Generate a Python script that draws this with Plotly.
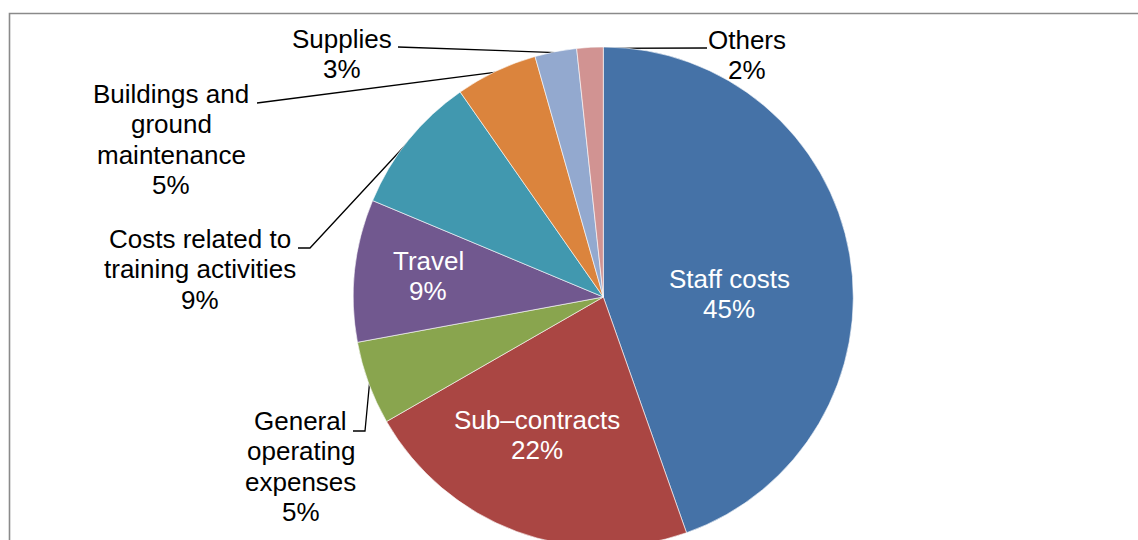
import plotly.graph_objects as go

# ---------------- data ----------------
categories = ["Staff costs", "Sub\u2013contracts", "General operating expenses", "Travel",
              "Costs related to training activities", "Buildings and ground maintenance",
              "Supplies", "Others"]
values = [44.6, 22.1, 5.4, 9.2, 9.0, 5.3, 2.7, 1.7]
colors = ["#4572A7", "#AA4643", "#89A54E", "#71588F", "#4198AF", "#DB843D", "#93A9CF", "#D19392"]

# label text lines (category name broken as in the chart)
label_lines = [
    ["Staff costs"],
    ["Sub\u2013contracts"],
    ["General", "operating", "expenses"],
    ["Travel"],
    ["Costs related to", "training activities"],
    ["Buildings and", "ground", "maintenance"],
    ["Supplies"],
    ["Others"],
]

# ---------------- layout / style ----------------
W, H = 1138, 560
CX, CY, R = 603.3, 297.0, 250.0
FONT = "Arial, 'Liberation Sans', Helvetica, sans-serif"
FS = 26
LINE_H = 30.3

# label placement: (text center x, first line center y, color, leader path start points)
label_style = [
    dict(x=729, y=279, color="white", lead=None),
    dict(x=537, y=420, color="white", lead=None),
    dict(x=300.5, y=421, color="black", lead=[(353, 431), (365, 431)]),
    dict(x=428, y=261, color="white", lead=None),
    dict(x=200, y=239, color="black", lead=[(298, 248), (310, 248)]),
    dict(x=171, y=94, color="black", lead=[(257, 103)]),
    dict(x=342, y=39, color="black", lead=[(398, 47)]),
    dict(x=747, y=40, color="black", lead=[(707, 48)]),
]

import math

total = sum(values)
fig = go.Figure()

fig.add_trace(go.Pie(
    labels=categories,
    values=values,
    sort=False,
    direction="clockwise",
    rotation=0,
    textinfo="none",
    marker=dict(colors=colors, line=dict(color="white", width=0.6)),
    domain=dict(x=[(CX - R) / W, (CX + R) / W],
                y=[1 - (CY + R) / H, 1 - (CY - R) / H]),
    showlegend=False,
    hoverinfo="label+percent",
))

annotations = []
cum = 0.0
for i, v in enumerate(values):
    mid = (cum + v / 2) / total * 2 * math.pi
    cum += v
    ex = CX + (R - 1) * math.sin(mid)
    ey = CY - (R - 1) * math.cos(mid)
    st = label_style[i]
    pct = f"{round(v / total * 100):.0f}%"
    lines = label_lines[i] + [pct]
    for k, txt in enumerate(lines):
        annotations.append(dict(
            x=st["x"], y=st["y"] + k * LINE_H, xref="x", yref="y",
            text=txt, showarrow=False, xanchor="center", yanchor="middle",
            font=dict(family=FONT, size=FS, color=st["color"]),
        ))
    if st["lead"]:
        pts = st["lead"] + [(ex, ey)]
        fig.add_trace(go.Scatter(
            x=[p[0] for p in pts], y=[p[1] for p in pts],
            mode="lines", line=dict(color="black", width=1.3),
            showlegend=False, hoverinfo="skip",
        ))

fig.update_layout(
    width=W, height=H,
    margin=dict(l=0, r=0, t=0, b=0),
    paper_bgcolor="white", plot_bgcolor="rgba(0,0,0,0)",
    xaxis=dict(range=[0, W], visible=False, domain=[0, 1], fixedrange=True),
    yaxis=dict(range=[H, 0], visible=False, domain=[0, 1], fixedrange=True),
    annotations=annotations,
    shapes=[dict(type="path", xref="x", yref="y",
                 path=f"M 9.5 {H + 50} L 9.5 13.5 L {W + 50} 13.5",
                 line=dict(color="#8a8a8a", width=1.6), layer="below")],
)

fig.write_html(
    "out.html",
    config={"displayModeBar": False},
    post_script="document.documentElement.style.overflow='hidden';"
                "document.body.style.margin='0';document.body.style.overflow='hidden';",
)
